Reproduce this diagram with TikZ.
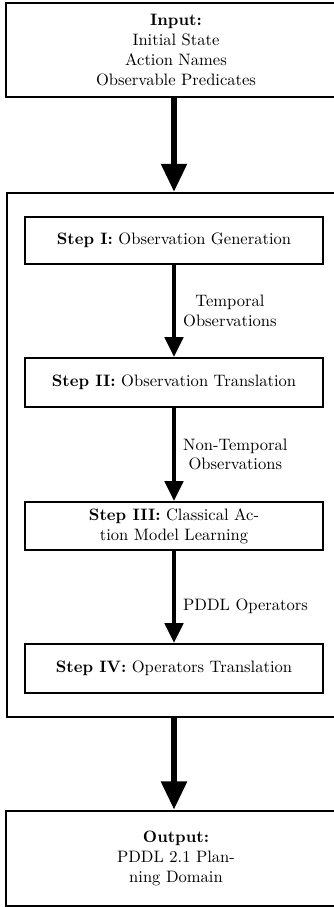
\documentclass[tikz,border=0pt]{standalone}
\usetikzlibrary{arrows.meta}
\newcommand\pxu{0.6046pt}
\tikzset{
  bigbox/.style={draw, line width=1.7pt, minimum width={340*\pxu}, align=center, inner sep=0pt},
  outerbox/.style={draw, line width=1.3pt, minimum width={340*\pxu}, minimum height={524*\pxu}, inner sep=0pt},
  stepbox/.style={draw, line width=1.2pt, minimum width={298*\pxu}, minimum height={48*\pxu}, align=center, inner sep=0pt},
  bigarrow/.style={line width=3.6pt, -{Triangle[width=15pt,length=17pt]}},
  smallarrow/.style={line width=2.4pt, -{Triangle[width=11pt,length=12pt]}},
  lbl/.style={right, align=center, xshift=1pt}
}
\begin{document}
\begin{tikzpicture}[x=\pxu, y=-\pxu]
\path[use as bounding box, clip] (0,0) rectangle (334,907);
\node[bigbox, minimum height={94*\pxu}] (input) at (176,50)
  {\textbf{Input:}\\Initial State\\Action Names\\Observable Predicates};
\node[outerbox] (proc) at (177,455) {};
\node[stepbox, minimum height={47*\pxu}] (s1) at (174,240.5) {\textbf{Step I:} Observation Generation};
\node[stepbox, minimum height={49*\pxu}] (s2) at (174,382.5) {\textbf{Step II:} Observation Translation};
\node[stepbox] (s3) at (174,526) {\textbf{Step III:} Classical Ac-\\tion Model Learning};
\node[stepbox, minimum height={49*\pxu}] (s4) at (174,668.5) {\textbf{Step IV:} Operators Translation};
\node[bigbox, minimum height={95*\pxu}] (output) at (176,858.5)
  {\textbf{Output:}\\PDDL 2.1 Plan-\\ning Domain};
\draw[bigarrow] (s1.north |- input.south) -- (s1.north |- proc.north);
\draw[smallarrow] (s1.south) -- node[lbl] {Temporal\\Observations} (s2.north);
\draw[smallarrow] (s2.south) -- node[lbl] {Non-Temporal\\Observations} (s3.north);
\draw[smallarrow] (s3.south) -- node[lbl, pos=0.6] {PDDL Operators} (s4.north);
\draw[bigarrow] (s4.south |- proc.south) -- (s4.south |- output.north);
\end{tikzpicture}
\end{document}
